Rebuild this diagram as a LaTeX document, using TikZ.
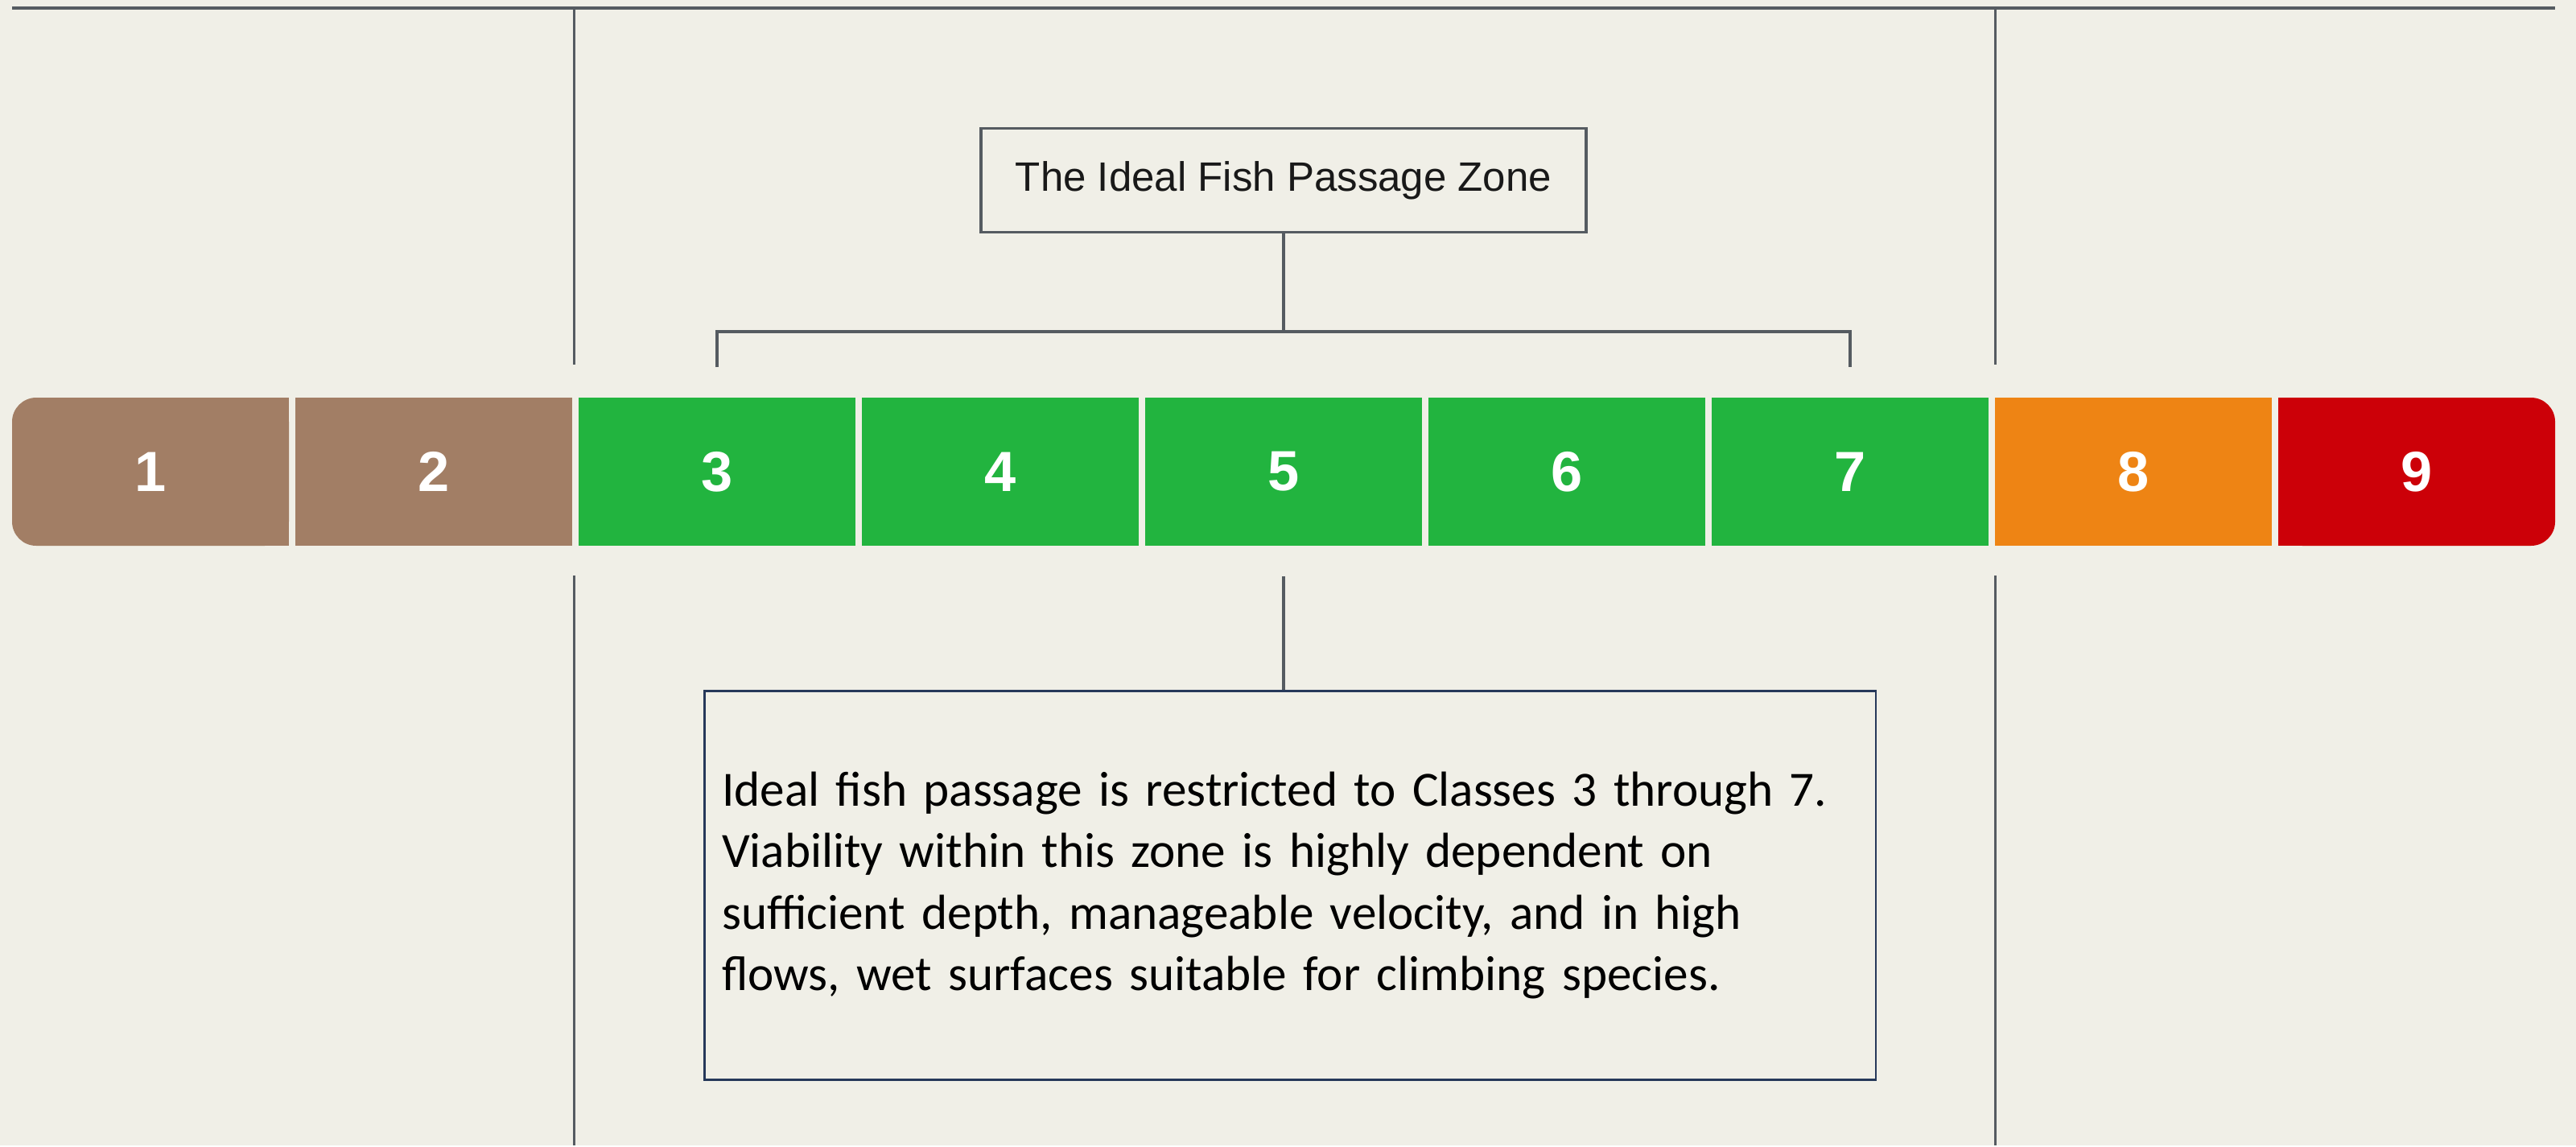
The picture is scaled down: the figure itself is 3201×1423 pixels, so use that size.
\documentclass[tikz,border=0pt]{standalone}
\usepackage{fontspec}
\setmainfont{Liberation Sans}
\newfontfamily\notefont{Carlito}
\usepackage{tikz}
\usetikzlibrary{calc}
\definecolor{pagebg}{HTML}{F0EFE7}
\definecolor{segbrown}{HTML}{A27E65}
\definecolor{seggreen}{HTML}{22B43F}
\definecolor{segorange}{HTML}{EE8414}
\definecolor{segred}{HTML}{CC0008}
\definecolor{rulegrey}{HTML}{555B61}
\definecolor{notenavy}{HTML}{26385A}

\begin{document}
\begin{tikzpicture}[x=0.01cm,y=-0.01cm,
       seg/.style={minimum width=3.44cm,minimum height=1.84cm,inner sep=0pt,text=white,
                   font=\fontsize{20}{20}\selectfont\bfseries},
       link/.style={draw=rulegrey,line width=1pt}]
       \fill[pagebg] (0,0) rectangle (3201,1423);
       % frame lines
       \draw[rulegrey,line width=1.1pt] (15,10) -- (3175,10);
       \draw[rulegrey,line width=0.85pt] (713,10) -- (713,453) (713,715) -- (713,1423);
       \draw[rulegrey,line width=0.85pt] (2479,10) -- (2479,453) (2479,715) -- (2479,1423);
       % rounded ends of the bar
       \fill[segbrown,rounded corners=0.3cm] (15,494) rectangle (359,678);
       \fill[segbrown] (187,494) rectangle (359,678);
       \fill[segred,rounded corners=0.3cm] (2831,494) rectangle (3175,678);
       \fill[segred] (2831,494) rectangle (3003,678);
       % classes
       \foreach \i/\col in {1/none,2/segbrown,3/seggreen,4/seggreen,5/seggreen,6/seggreen,7/seggreen,8/segorange,9/none}
          \node[seg,fill=\col] (s\i) at ({187+352*(\i-1)},586) {\i};
       \node[draw=rulegrey,line width=1.1pt,minimum width=7.51cm,minimum height=1.29cm,inner sep=0pt,
             text=black!90,font=\fontsize{14.5}{17}\selectfont] (title) at (1595,224) {The Ideal Fish Passage Zone};
       \node[draw=notenavy,line width=0.8pt,minimum width=14.55cm,minimum height=4.83cm,inner xsep=0.22cm,
             text width=14.11cm,align=left,font=\notefont\fontsize{17.4}{21.7}\selectfont] (note) at (1603,1100)
             {Ideal fish passage is restricted to Classes 3 through 7.\\
              Viability within this zone is highly dependent on\\
              sufficient depth, manageable velocity, and in high\\
              flows, wet surfaces suitable for climbing species.};
       % bracket over 3--7
       \coordinate (zl) at ($(s3.north)+(0,-37)$);
       \coordinate (zr) at ($(s7.north)+(0,-37)$);
       \draw[link] (zl) -- ++(0,-44) coordinate (bl) -| (zr);
       \draw[link] (title.south) -- (title.south |- bl);
       \draw[link] ($(s5.south)+(0,37)$) -- (s5.south |- note.north);
\end{tikzpicture}
\end{document}
